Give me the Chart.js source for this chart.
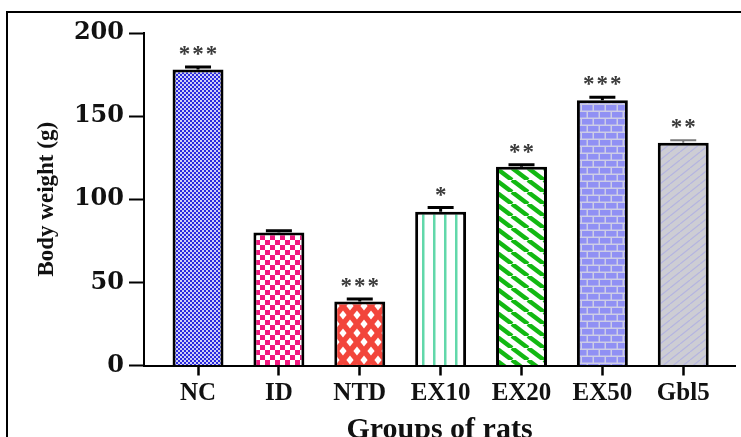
<!DOCTYPE html>
<html>
<head>
<meta charset="utf-8">
<script src="https://cdn.jsdelivr.net/npm/chart.js@4.4.1/dist/chart.umd.min.js"></script>
<style>
  html, body { margin: 0; padding: 0; background: #fff; }
  #wrap { position: relative; width: 741px; height: 437px; overflow: hidden; }
  #frame { position: absolute; left: 6px; top: 11px; width: 800px; height: 500px;
           border-top: 2px solid #000; border-left: 2px solid #000; }
  canvas { position: absolute; left: 0; top: 0; }
</style>
</head>
<body>
<div id="wrap">
  <div id="frame"></div>
  <canvas id="c" width="741" height="437"></canvas>
</div>
<script>
// Body weight per group (mean ± SEM) and significance marks
const groups = ['NC', 'ID', 'NTD', 'EX10', 'EX20', 'EX50', 'Gbl5'];
const bodyWeight = [178, 80, 38.5, 92.5, 119.5, 159.5, 134];
const weightSem = [1.5, 1, 1.5, 2.5, 1.3, 1.8, 1.5];
const significance = ['***', '', '***', '*', '**', '***', '**'];
const yTicks = [0, 50, 100, 150, 200];

// ---- fill patterns -------------------------------------------------------
function tile(w, h, paint) {
  const c = document.createElement('canvas');
  c.width = w; c.height = h;
  const g = c.getContext('2d');
  paint(g, w, h);
  return document.getElementById('c').getContext('2d').createPattern(c, 'repeat');
}

const fills = [
  // NC: fine blue checks
  tile(4, 4, (g) => {
    g.fillStyle = '#2a2ae0'; g.fillRect(0, 0, 4, 4);
    g.fillStyle = '#cfcff6'; g.fillRect(0, 0, 2, 2); g.fillRect(2, 2, 2, 2);
  }),
  // ID: pink checkerboard
  tile(10, 10, (g) => {
    g.fillStyle = '#f2177e'; g.fillRect(0, 0, 10, 10);
    g.fillStyle = '#ffffff'; g.fillRect(0, 0, 5, 5); g.fillRect(5, 5, 5, 5);
  }),
  // NTD: red with white diamonds
  tile(14, 18, (g, w, h) => {
    g.fillStyle = '#f2453b'; g.fillRect(0, 0, w, h);
    g.fillStyle = '#ffffff';
    const dia = (cx, cy) => {
      g.beginPath();
      g.moveTo(cx, cy - 4.5); g.lineTo(cx + 3.6, cy); g.lineTo(cx, cy + 4.5); g.lineTo(cx - 3.6, cy);
      g.closePath(); g.fill();
    };
    dia(w / 2, h / 2); dia(0, 0); dia(w, 0); dia(0, h); dia(w, h);
  }),
  // EX10: mint vertical stripes
  tile(11, 2, (g) => {
    g.fillStyle = '#ffffff'; g.fillRect(0, 0, 11, 2);
    g.fillStyle = '#62d8aa'; g.fillRect(4, 0, 2.5, 2);
  }),
  // EX20: green diagonal stripes
  tile(16, 12, (g, w, h) => {
    g.fillStyle = '#ffffff'; g.fillRect(0, 0, w, h);
    g.strokeStyle = '#12b812'; g.lineWidth = 4.5;
    for (const d of [-w, 0, w]) {
      g.beginPath(); g.moveTo(d, 0); g.lineTo(d + w, h); g.stroke();
    }
  }),
  // EX50: lavender brick
  tile(24, 14, (g) => {
    g.fillStyle = '#cdcde6'; g.fillRect(0, 0, 24, 14);
    g.fillStyle = '#9090f4';
    g.fillRect(0, 0, 10.5, 5.5); g.fillRect(12, 0, 10.5, 5.5);
    g.fillRect(6, 7, 10.5, 5.5); g.fillRect(18, 7, 6, 5.5); g.fillRect(0, 7, 4.5, 5.5);
  }),
  // Gbl5: grey with faint blue diagonal hatching
  tile(10, 8, (g, w, h) => {
    g.fillStyle = '#cdcdd4'; g.fillRect(0, 0, w, h);
    g.strokeStyle = '#b4b4e0'; g.lineWidth = 1.2;
    for (const d of [-w, 0, w]) {
      g.beginPath(); g.moveTo(d, h); g.lineTo(d + w, 0); g.stroke();
    }
  })
];

// ---- error bars and significance stars ----------------------------------
const annotations = {
  id: 'annotations',
  afterDatasetsDraw(chart) {
    const ctx = chart.ctx;
    const ys = chart.scales.y;
    const meta = chart.getDatasetMeta(0);
    meta.data.forEach((bar, i) => {
      const topY = ys.getPixelForValue(bodyWeight[i]);
      const capY = ys.getPixelForValue(bodyWeight[i] + weightSem[i]);
      ctx.save();
      ctx.strokeStyle = i === 6 ? '#7a7a7a' : '#000';
      ctx.lineWidth = i === 6 ? 2 : 3;
      ctx.beginPath();
      ctx.moveTo(bar.x, topY); ctx.lineTo(bar.x, capY);
      ctx.moveTo(bar.x - 13, capY); ctx.lineTo(bar.x + 13, capY);
      ctx.stroke();

      const marks = significance[i];
      ctx.fillStyle = '#3a3a3a';
      ctx.font = 'bold 23px "Liberation Serif"';
      ctx.textAlign = 'center';
      ctx.textBaseline = 'alphabetic';
      const step = 13.5;
      const x0 = bar.x - (marks.length - 1) * step / 2;
      for (let k = 0; k < marks.length; k++) {
        ctx.fillText(marks[k], x0 + k * step, capY - 6);
      }
      ctx.restore();
    });
  }
};

new Chart(document.getElementById('c'), {
  type: 'bar',
  data: {
    datasets: [{
      data: groups.map((g, i) => ({ x: i, y: bodyWeight[i] })),
      backgroundColor: fills,
      borderColor: '#000',
      borderWidth: 3,
      borderSkipped: 'start',
      barPercentage: 0.63,
      categoryPercentage: 1
    }]
  },
  options: {
    responsive: false,
    devicePixelRatio: 1,
    animation: false,
    layout: { padding: { left: 33, top: 33, right: 6, bottom: 0 } },
    plugins: { legend: { display: false }, tooltip: { enabled: false } },
    scales: {
      x: {
        type: 'linear',
        min: -0.668,
        max: 6.64,
        offset: false,
        afterFit(s) { s.height = 71.5; },
        border: { display: true, color: '#000', width: 2 },
        grid: { display: true, offset: false, drawOnChartArea: false, drawTicks: true, tickLength: 10,
                tickWidth: 2.5, tickColor: '#000', color: '#000' },
        ticks: {
          stepSize: 1, includeBounds: false, autoSkip: false, maxRotation: 0,
          color: '#111', padding: 3,
          font: { family: 'Liberation Serif', weight: 'bold', size: 25 },
          callback: (v) => groups[v] ?? ''
        },
        title: {
          display: true, text: 'Groups of rats', color: '#111',
          font: { family: 'Liberation Serif', weight: 'bold', size: 30, lineHeight: 1 },
          padding: { top: 0, bottom: -8 }
        }
      },
      y: {
        min: yTicks[0],
        max: yTicks[yTicks.length - 1],
        afterFit(s) { s.width = 111; },
        border: { display: true, color: '#000', width: 2 },
        grid: { display: true, drawOnChartArea: false, tickLength: 15, tickWidth: 2,
                tickColor: '#000', color: '#000' },
        ticks: {
          stepSize: yTicks[1] - yTicks[0], color: '#111', padding: 5,
          font: { family: 'DejaVu Serif', weight: 'bold', size: 24 }
        },
        title: {
          display: true, text: 'Body weight (g)', color: '#111',
          font: { family: 'Liberation Serif', weight: 'bold', size: 23 },
          padding: { top: 0, bottom: 0 }
        }
      }
    }
  },
  plugins: [annotations]
});
</script>
</body>
</html>
